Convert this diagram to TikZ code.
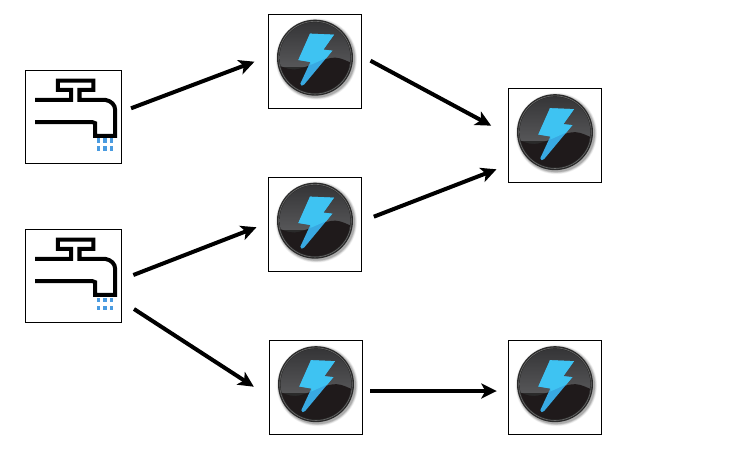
\documentclass[tikz,border=0pt]{standalone}
\usetikzlibrary{arrows.meta}
\definecolor{boltA}{HTML}{3EC3F2}
\definecolor{boltB}{HTML}{38A9E2}
\definecolor{dropblue}{HTML}{4A9BE0}
\definecolor{glasslow}{HTML}{1F1A1B}
\definecolor{glasstop}{HTML}{333335}
\definecolor{glassmid}{HTML}{565658}
\definecolor{glassrim}{HTML}{2A2A2A}
\definecolor{glassring}{HTML}{6A6A6A}
\tikzset{
  iconbox/.style={draw=black,line width=1pt,fill=white,inner sep=0pt,outer sep=0pt},
  faucetbox/.style={iconbox,minimum width=96pt,minimum height=93pt},
  boltbox/.style={iconbox,minimum width=93pt,minimum height=94pt},
  flow/.style={line width=4pt,black,-{Stealth[length=15.5pt,width=15pt,inset=4pt]}},
  pipe/.style={line width=4pt,black,miter limit=4,line join=miter}
}
\newcommand{\faucetart}[1]{%
  \begin{scope}[shift={(#1.center)},x=0.3333pt,y=-0.3333pt]
    \draw[pipe] (-115,-50) -- (-7,-50) -- (-7,-80) -- (-47,-80) -- (-47,-108) -- (60,-108) -- (60,-80) -- (18,-80) -- (18,-50) -- (95,-50) .. controls (113,-47) and (125,-35) .. (125,-20) -- (125,58) -- (65,58) -- (65,20) -- (57,17) -- (-115,17);
    \foreach \dx in {75,95,115}
      \foreach \dy in {66,90}
        \fill[dropblue] (\dx-5,\dy) rectangle (\dx+5,\dy+14);
  \end{scope}}
\newcommand{\boltart}[1]{%
  \begin{scope}[shift={(#1.center)},x=0.3333pt,y=-0.3333pt]
    \foreach \r/\o in {122/0.05,120/0.07,118/0.1,116/0.14}
      \fill[black,opacity=\o] (4,-6) circle[radius=\r];
    \fill[glassrim] (0,-10) circle[radius=114];
    \begin{scope}
      \clip (0,-10) circle[radius=106];
      \shade[top color=glasstop,bottom color=glassmid] (-115,-125) rectangle (115,15);
      \fill[glasslow] (-115,10) .. controls (-85,25) and (-65,28) .. (-50,24) .. controls (-10,15) and (30,-12) .. (62,-10) .. controls (80,-9) and (95,0) .. (115,8) -- (115,110) -- (-115,110) -- cycle;
    \end{scope}
    \draw[glassring,line width=0.6pt] (0,-10) circle[radius=109];
    \fill[boltB] (-15,-82) -- (57,-79) -- (25,-34) -- (52,-31) -- (-32,70) -- (-40,74) -- (-44,68) -- (-14,3) -- (-50,-3) -- cycle;
    \fill[boltA] (-15,-82) -- (57,-79) -- (25,-34) -- (52,-31) -- (34,-9) -- (-14,12) -- (-14,3) -- (-50,-3) -- cycle;
  \end{scope}}
\begin{document}
\begin{tikzpicture}[x=1pt,y=-1pt]
  \useasboundingbox (0,0) rectangle (729,450);
  \node[faucetbox] (f1) at (73.5,116.5) {};
  \node[faucetbox] (f2) at (73.5,275.5) {};
  \node[boltbox] (b1) at (315,61) {};
  \node[boltbox] (b2) at (315,224) {};
  \node[boltbox] (b3) at (316,387.5) {};
  \node[boltbox] (t1) at (555,135.5) {};
  \node[boltbox] (t2) at (555,387.5) {};
  \faucetart{f1}
  \faucetart{f2}
  \boltart{b1}
  \boltart{b2}
  \boltart{b3}
  \boltart{t1}
  \boltart{t2}
  \draw[flow,shorten <=10.2pt,shorten >=15pt] ([yshift=4.6pt]f1.east) -- ([yshift=4.6pt]b1.west);
  \draw[flow,shorten <=10.2pt,shorten >=19.7pt] ([yshift=5.15pt]b1.east) -- ([yshift=0.5pt]t1.west);
  \draw[flow,shorten <=13.2pt,shorten >=12.9pt] ([yshift=2.55pt]b2.east) -- ([yshift=-29.16pt]t1.west);
  \draw[flow,shorten <=12.7pt,shorten >=12.9pt] ([yshift=-4.1pt]f2.east) -- ([yshift=1.4pt]b2.west);
  \draw[flow,shorten <=14.9pt,shorten >=18.7pt] ([yshift=-25.4pt]f2.east) -- ([yshift=-9.4pt]b3.west);
  \draw[flow,shorten <=7.7pt,shorten >=11.7pt] ([yshift=-3.5pt]b3.east) -- ([yshift=-3.5pt]t2.west);
\end{tikzpicture}
\end{document}
